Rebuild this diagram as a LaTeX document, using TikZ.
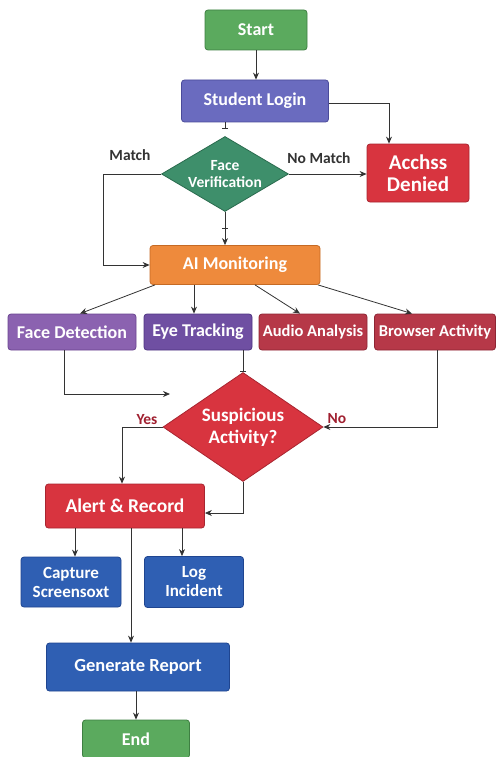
\documentclass[tikz,border=0pt]{standalone}
\usepackage{fontspec}
\setmainfont{Carlito}
\usetikzlibrary{shapes.geometric,arrows.meta}
\definecolor{cgreen}{HTML}{5BAA5E}\definecolor{bgreen}{HTML}{3E7F42}
\definecolor{clogin}{HTML}{6A6BBF}\definecolor{blogin}{HTML}{4A4B9A}
\definecolor{cteal}{HTML}{3E8F6B}\definecolor{bteal}{HTML}{2A6B4E}
\definecolor{cred}{HTML}{D8343F}\definecolor{bred}{HTML}{A82530}
\definecolor{corange}{HTML}{EE8A3C}\definecolor{borange}{HTML}{C56A24}
\definecolor{cpurple}{HTML}{8B62B0}\definecolor{bpurple}{HTML}{6A4590}
\definecolor{cviolet}{HTML}{6F4FA2}\definecolor{bviolet}{HTML}{4F3582}
\definecolor{cwine}{HTML}{B63848}\definecolor{bwine}{HTML}{8E2534}
\definecolor{cblue}{HTML}{2F5FB3}\definecolor{bblue}{HTML}{1F4590}
\definecolor{lbl}{HTML}{333333}\definecolor{redlbl}{HTML}{A02030}
\tikzset{
  box/.style={rectangle, rounded corners=3pt, line width=0.8pt, inner sep=0pt, align=center,
    text=white, font=\bfseries\fontsize{18}{19}\selectfont},
  dia/.style={diamond, line width=0.8pt, inner sep=0pt, align=center, text=white,
    font=\bfseries\fontsize{15.5}{17}\selectfont},
  arr/.style={draw=black!80, line width=0.8pt, -{Stealth[length=7pt,width=6pt]}},
  tee/.style={draw=black!80, line width=0.8pt, -{Bar[width=6pt]}},
  plain/.style={draw=black!80, line width=0.8pt},
  lab/.style={font=\bfseries\fontsize{15.5}{17}\selectfont, text=lbl},
  rlab/.style={font=\bfseries\fontsize{15.5}{17}\selectfont, text=redlbl},
}
\begin{document}
\begin{tikzpicture}[x=1pt,y=-1pt]
\useasboundingbox (0,0) rectangle (496,757);
% nodes
\node[box, fill=cgreen, draw=bgreen, minimum width=102pt, minimum height=40pt] (start) at (256,30) {Start};
\node[box, fill=clogin, draw=blogin, minimum width=147pt, minimum height=42pt] (login) at (255,101) {Student Login};
\node[dia, aspect=1.7, fill=cteal, draw=bteal, minimum width=127pt, minimum height=75pt] (fv) at (225,174) {Face\\Verification};
\node[box, fill=cred, draw=bred, minimum width=102pt, minimum height=58pt, font=\bfseries\fontsize{21}{22}\selectfont] (access) at (418,173) {Acchss\\Denied};
\node[box, fill=corange, draw=borange, minimum width=170pt, minimum height=39pt] (ai) at (235,265) {AI Monitoring};
\node[box, fill=cpurple, draw=bpurple, minimum width=128pt, minimum height=36pt] (fd) at (72,332) {Face Detection};
\node[box, fill=cviolet, draw=bviolet, minimum width=108pt, minimum height=36pt] (et) at (198,332) {Eye Tracking};
\node[box, fill=cwine, draw=bwine, minimum width=108pt, minimum height=36pt, font=\bfseries\fontsize{16.5}{17}\selectfont] (aa) at (313,332) {Audio Analysis};
\node[box, fill=cwine, draw=bwine, minimum width=121pt, minimum height=36pt, font=\bfseries\fontsize{16.5}{17}\selectfont] (ba) at (435,332) {Browser Activity};
\node[dia, aspect=1.47, fill=cred, draw=bred, minimum width=160pt, minimum height=109pt, font=\bfseries\fontsize{19}{22}\selectfont] (sa) at (243,427) {Suspicious\\Activity?};
\node[box, fill=cred, draw=bred, minimum width=159pt, minimum height=44pt, font=\bfseries\fontsize{19.5}{20}\selectfont] (alert) at (125,506) {Alert \& Record};
\node[box, fill=cblue, draw=bblue, minimum width=100pt, minimum height=50pt, font=\bfseries\fontsize{17}{19}\selectfont] (cs) at (71,582) {Capture\\Screensoxt};
\node[box, fill=cblue, draw=bblue, minimum width=99pt, minimum height=51pt, font=\bfseries\fontsize{17}{19}\selectfont] (li) at (194,582) {Log\\Incident};
\node[box, fill=cblue, draw=bblue, minimum width=183pt, minimum height=48pt, font=\bfseries\fontsize{18.5}{19}\selectfont] (gr) at (138,667) {Generate Report};
\node[box, fill=cgreen, draw=bgreen, minimum width=107pt, minimum height=38pt] (end) at (136,739) {End};
% labels
\node[lab] (lmatch) at (130,155) {Match};
\node[lab] (lnomatch) at (319,158) {No Match};
\node[rlab] (lyes) at (147,420) {Yes};
\node[rlab] (lno) at (337,419) {No};
% connectors
\draw[arr] (start.south) -- (start.south |- login.north);
\draw[arr] ([yshift=-2pt]login.east) -| ([xshift=-29pt]access.north);
\draw[tee, shorten >=7pt] (login.south -| fv.north) -- (fv.north);
\draw[arr] (fv.east) -- (fv.east -| access.west);
\draw[arr] (fv.west) -- ++(-58,0) |- (ai.west);
\draw[arr] (fv.south) -- (fv.south |- ai.north);
\coordinate (tk1) at (225,228);
\draw[plain] ([xshift=-3pt]tk1) -- ([xshift=3pt]tk1);
\draw[arr] ([xshift=-80pt]ai.south) -- ([xshift=8pt]fd.north);
\draw[arr] ([xshift=-41pt]ai.south) -- ([xshift=-4pt]et.north);
\draw[arr] ([xshift=20pt]ai.south) -- ([xshift=-13pt]aa.north);
\draw[arr] ([xshift=83pt]ai.south) -- ([xshift=-23pt]ba.north);
\coordinate (fdend) at (170,394);
\draw[arr] ([xshift=-8pt]fd.south) |- (fdend);
\draw[tee] (et.south -| sa.north) -- (sa.north);
\draw[arr] ([xshift=2pt]ba.south) |- (sa.east);
\draw[arr] (sa.west) -| ([xshift=-3pt]alert.north);
\draw[arr] (sa.south) |- ([yshift=-7pt]alert.east);
\draw[arr] ([xshift=-50pt]alert.south) -- ([xshift=-50pt]alert.south |- cs.north);
\draw[arr] ([xshift=57pt]alert.south) -- ([xshift=57pt]alert.south |- li.north);
\draw[arr] ([xshift=6pt]alert.south) -- ([xshift=6pt]alert.south |- gr.north);
\draw[arr] (gr.south -| end.north) -- (end.north);
\end{tikzpicture}
\end{document}
